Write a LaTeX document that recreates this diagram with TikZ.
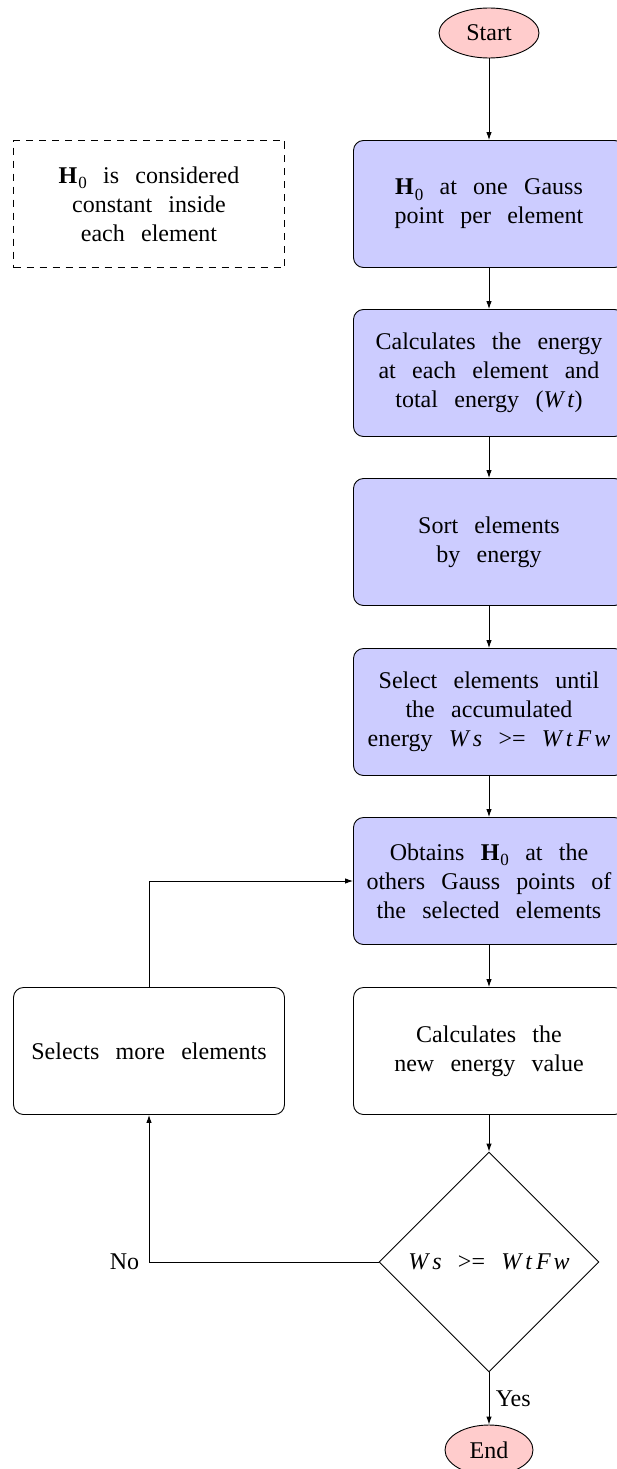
\documentclass[tikz,border=0pt]{standalone}
\usepackage{fontspec}
\setmainfont{Liberation Serif}
\usetikzlibrary{shapes.geometric,arrows.meta}
\newcommand{\Hz}{\textbf{H}\kern1pt\raisebox{-0.22em}{\fontsize{17}{17}\selectfont 0}}
\newcommand{\Ws}{\textit{W\kern4pt s}}
\newcommand{\Wt}{\textit{W\kern4pt t}}
\newcommand{\WtFw}{\textit{W\kern4pt t\kern4pt F\kern3pt w}}
\begin{document}
\begin{tikzpicture}[x=1pt,y=-1pt,
  every node/.style={font={\fontsize{24}{29}\selectfont\spaceskip=0.68em\relax}},
  box/.style={draw, rounded corners=10pt, minimum width=271pt, minimum height=127pt, align=center, line width=0.9pt, inner sep=0pt},
  bluebox/.style={box, fill=blue!20},
  whitebox/.style={box, fill=white},
  note/.style={draw, dash pattern=on 7pt off 6pt, minimum width=271pt, minimum height=127pt, align=center, line width=0.9pt, inner sep=0pt},
  term/.style={ellipse, draw, fill=red!20, minimum height=50pt, inner sep=0pt, line width=0.9pt},
  decision/.style={diamond, draw, aspect=1, minimum width=220pt, minimum height=220pt, inner sep=0pt, line width=0.9pt},
  conn/.style={-{Latex[length=8pt,width=5.5pt]}, line width=0.9pt}
]
\useasboundingbox (0,0) rectangle (616,1469);

\node[term, minimum width=100pt] (start) at (489,33) {Start};
\node[note] (note) at (149,204) {\Hz{} is considered\\constant inside\\each element};
\node[bluebox] (b1) at (489,204) {\Hz{} at one Gauss\\point per element};
\node[bluebox] (b2) at (489,373) {Calculates the energy\\at each element and\\total energy (\Wt)};
\node[bluebox] (b3) at (489,542) {Sort elements\\by energy};
\node[bluebox] (b4) at (489,712) {Select elements until\\the accumulated\\energy \Ws{} >= \WtFw};
\node[bluebox] (b5) at (489,881) {Obtains \Hz{} at the\\others Gauss points of\\the selected elements};
\node[whitebox] (b6) at (489,1051) {Calculates the\\new energy value};
\node[whitebox] (sel) at (149,1051) {Selects more elements};
\node[decision] (dec) at (489,1262) {\Ws{} >= \WtFw};
\node[term, minimum width=88pt] (end) at (489,1450) {End};

\coordinate (cno) at (149,1262);
\coordinate (cup) at (149,881);

\draw[conn] (start) -- (b1);
\draw[conn] (b1) -- (b2);
\draw[conn] (b2) -- (b3);
\draw[conn] (b3) -- (b4);
\draw[conn] (b4) -- (b5);
\draw[conn] (b5) -- (b6);
\draw[conn] (b6) -- (dec);
\draw[conn] (dec) -- node[right, xshift=3pt] {Yes} (end);
\draw[conn] (dec.west) -- (cno) node[left, xshift=-6pt] {No} -- (sel.south);
\draw[conn] (sel.north) -- (cup) -- (b5.west);
\end{tikzpicture}
\end{document}
